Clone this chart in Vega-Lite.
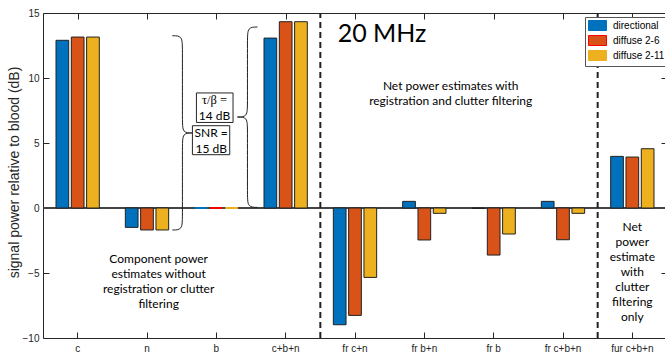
{
  "$schema": "https://vega.github.io/schema/vega-lite/v6.json",
  "autosize": {"type": "none"},
  "padding": {"left": 43, "top": 13, "right": 0, "bottom": 14},
  "width": 624,
  "height": 325,
  "background": "white",
  "config": {
    "view": {"stroke": "#262626", "strokeWidth": 1},
    "axis": {"grid": false, "labelFont": "Liberation Sans", "labelFontSize": 10, "labelColor": "#262626", "tickColor": "#262626", "titleFont": "Liberation Sans", "titleColor": "#262626", "titleFontWeight": "normal"},
    "legend": {"labelFont": "Liberation Sans", "labelFontSize": 10, "labelColor": "#000", "strokeColor": "#555", "strokeWidth": 1}
  },
  "datasets": {
    "bars": [
      {"cat": "c", "series": "directional", "value": 12.9},
      {"cat": "c", "series": "diffuse 2-6", "value": 13.15},
      {"cat": "c", "series": "diffuse 2-11", "value": 13.15},
      {"cat": "n", "series": "directional", "value": -1.49},
      {"cat": "n", "series": "diffuse 2-6", "value": -1.69},
      {"cat": "n", "series": "diffuse 2-11", "value": -1.69},
      {"cat": "b", "series": "directional", "value": 0},
      {"cat": "b", "series": "diffuse 2-6", "value": 0},
      {"cat": "b", "series": "diffuse 2-11", "value": 0},
      {"cat": "c+b+n", "series": "directional", "value": 13.07},
      {"cat": "c+b+n", "series": "diffuse 2-6", "value": 14.33},
      {"cat": "c+b+n", "series": "diffuse 2-11", "value": 14.33},
      {"cat": "fr c+n", "series": "directional", "value": -8.98},
      {"cat": "fr c+n", "series": "diffuse 2-6", "value": -8.26},
      {"cat": "fr c+n", "series": "diffuse 2-11", "value": -5.34},
      {"cat": "fr b+n", "series": "directional", "value": 0.51},
      {"cat": "fr b+n", "series": "diffuse 2-6", "value": -2.46},
      {"cat": "fr b+n", "series": "diffuse 2-11", "value": -0.41},
      {"cat": "fr b", "series": "directional", "value": -0.03},
      {"cat": "fr b", "series": "diffuse 2-6", "value": -3.62},
      {"cat": "fr b", "series": "diffuse 2-11", "value": -2.0},
      {"cat": "fr c+b+n", "series": "directional", "value": 0.51},
      {"cat": "fr c+b+n", "series": "diffuse 2-6", "value": -2.44},
      {"cat": "fr c+b+n", "series": "diffuse 2-11", "value": -0.41},
      {"cat": "fur c+b+n", "series": "directional", "value": 3.97},
      {"cat": "fur c+b+n", "series": "diffuse 2-6", "value": 3.92},
      {"cat": "fur c+b+n", "series": "diffuse 2-11", "value": 4.56}
    ],
    "braces": [
      {"brace": "L", "i": 0, "x": 2.366, "y": 13.25},
      {"brace": "L", "i": 1, "x": 2.511, "y": 13.25},
      {"brace": "L", "i": 2, "x": 2.511, "y": 12.3},
      {"brace": "L", "i": 3, "x": 2.511, "y": 6.7},
      {"brace": "L", "i": 4, "x": 2.511, "y": 5.77},
      {"brace": "L", "i": 5, "x": 2.655, "y": 5.77},
      {"brace": "L", "i": 6, "x": 2.655, "y": 5.77},
      {"brace": "L", "i": 7, "x": 2.655, "y": 5.77},
      {"brace": "L", "i": 8, "x": 2.511, "y": 5.77},
      {"brace": "L", "i": 9, "x": 2.511, "y": 4.8},
      {"brace": "L", "i": 10, "x": 2.511, "y": -0.7},
      {"brace": "L", "i": 11, "x": 2.511, "y": -1.69},
      {"brace": "L", "i": 12, "x": 2.366, "y": -1.69},
      {"brace": "R", "i": 0, "x": 3.593, "y": 13.92},
      {"brace": "R", "i": 1, "x": 3.449, "y": 13.92},
      {"brace": "R", "i": 2, "x": 3.449, "y": 12.95},
      {"brace": "R", "i": 3, "x": 3.449, "y": 7.95},
      {"brace": "R", "i": 4, "x": 3.449, "y": 7.0},
      {"brace": "R", "i": 5, "x": 3.304, "y": 7.0},
      {"brace": "R", "i": 6, "x": 3.304, "y": 7.0},
      {"brace": "R", "i": 7, "x": 3.304, "y": 7.0},
      {"brace": "R", "i": 8, "x": 3.449, "y": 7.0},
      {"brace": "R", "i": 9, "x": 3.449, "y": 6.05},
      {"brace": "R", "i": 10, "x": 3.449, "y": 1.0},
      {"brace": "R", "i": 11, "x": 3.449, "y": 0.05},
      {"brace": "R", "i": 12, "x": 3.593, "y": 0.05}
    ]
  },
  "resolve": {"scale": {"x": "independent", "y": "independent"}, "axis": {"x": "independent", "y": "independent"}},
  "layer": [
    {
      "data": {"name": "bars"},
      "layer": [
        {
          "mark": {"type": "rule", "color": "#444", "strokeWidth": 1},
          "encoding": {
            "y": {"datum": 0, "type": "quantitative", "scale": {"domain": [-10, 15], "nice": false, "zero": false}, "axis": {"title": "signal power relative to blood (dB)", "values": [-10, -5, 0, 5, 10, 15], "tickSize": -6, "labelPadding": 10, "domain": false, "titleFontSize": 14, "titlePadding": 1, "titleY": 159}}
          }
        },
        {
          "mark": {"type": "bar"},
          "encoding": {
            "x": {"field": "cat", "type": "nominal", "sort": ["c", "n", "b", "c+b+n", "fr c+n", "fr b+n", "fr b", "fr c+b+n", "fur c+b+n"], "scale": {"paddingInner": 0, "paddingOuter": 0}, "axis": {"title": null, "labelAngle": 0, "tickSize": -6, "labelPadding": 11, "domain": false}},
            "xOffset": {"field": "series", "type": "nominal", "sort": ["directional", "diffuse 2-6", "diffuse 2-11"], "scale": {"paddingInner": 0.17, "paddingOuter": 0.85}},
            "y": {"field": "value", "type": "quantitative", "scale": {"domain": [-10, 15], "nice": false, "zero": false}, "axis": {"title": "signal power relative to blood (dB)", "values": [-10, -5, 0, 5, 10, 15], "tickSize": -6, "labelPadding": 10, "domain": false, "titleFontSize": 14, "titlePadding": 1, "titleY": 159}},
            "fill": {"field": "series", "type": "nominal", "sort": ["directional", "diffuse 2-6", "diffuse 2-11"], "scale": {"domain": ["directional", "diffuse 2-6", "diffuse 2-11"], "range": ["#0072BD", "#D95319", "#EDB120"]}, "legend": {"title": null, "orient": "none", "legendX": 542, "legendY": 4, "fillColor": "white", "strokeColor": "#555", "padding": 3, "symbolType": "M-1.8,-1H1.8V1H-1.8Z", "symbolSize": 100, "symbolOffset": 4, "symbolStrokeColor": "#222", "symbolStrokeWidth": 1, "symbolOpacity": 1, "rowPadding": 0, "labelOffset": 10}},
            "stroke": {"condition": {"test": "datum.cat === 'b'", "field": "series", "type": "nominal", "scale": {"domain": ["directional", "diffuse 2-6", "diffuse 2-11"], "range": ["#0072BD", "#FF0000", "#EDB120"]}, "legend": null}, "value": "#222"},
            "strokeWidth": {"condition": {"test": "datum.cat === 'b'", "value": 2}, "value": 1}
          }
        }
      ]
    },
    {
      "layer": [
        {
          "data": {"values": [{"x": 4.5}, {"x": 8.5}]},
          "mark": {"type": "rule", "color": "#222", "strokeWidth": 2, "strokeDash": [6, 4]},
          "encoding": {
            "x": {"field": "x", "type": "quantitative", "scale": {"domain": [0.5, 9.5], "nice": false, "zero": false}, "axis": {"orient": "top", "values": [1, 2, 3, 4, 5, 6, 7, 8, 9], "labels": false, "tickSize": -6, "domain": false, "title": null}},
            "y": {"datum": -10, "type": "quantitative", "scale": {"domain": [-10, 15], "nice": false, "zero": false}, "axis": {"orient": "right", "values": [-10, -5, 0, 5, 10, 15], "labels": false, "tickSize": -6, "domain": false, "title": null}},
            "y2": {"datum": 15}
          }
        },
        {
          "data": {"name": "braces"},
          "mark": {"type": "line", "interpolate": "basis", "color": "#222", "strokeWidth": 1},
          "encoding": {
            "x": {"field": "x", "type": "quantitative", "scale": {"domain": [0.5, 9.5], "nice": false, "zero": false}, "axis": {"orient": "top", "values": [1, 2, 3, 4, 5, 6, 7, 8, 9], "labels": false, "tickSize": -6, "domain": false, "title": null}},
            "y": {"field": "y", "type": "quantitative", "scale": {"domain": [-10, 15], "nice": false, "zero": false}, "axis": {"orient": "right", "values": [-10, -5, 0, 5, 10, 15], "labels": false, "tickSize": -6, "domain": false, "title": null}},
            "detail": {"field": "brace", "type": "nominal"},
            "order": {"field": "i", "type": "quantitative"}
          }
        },
        {
          "data": {"values": [{"x": 2.713, "x2": 3.241, "y": 6.58, "y2": 8.85}, {"x": 2.655, "x2": 3.193, "y": 4.1, "y2": 6.33}]},
          "mark": {"type": "rect", "fill": "white", "stroke": "#262626", "strokeWidth": 1},
          "encoding": {
            "x": {"field": "x", "type": "quantitative", "scale": {"domain": [0.5, 9.5], "nice": false, "zero": false}, "axis": {"orient": "top", "values": [1, 2, 3, 4, 5, 6, 7, 8, 9], "labels": false, "tickSize": -6, "domain": false, "title": null}},
            "x2": {"field": "x2"},
            "y": {"field": "y", "type": "quantitative", "scale": {"domain": [-10, 15], "nice": false, "zero": false}, "axis": {"orient": "right", "values": [-10, -5, 0, 5, 10, 15], "labels": false, "tickSize": -6, "domain": false, "title": null}},
            "y2": {"field": "y2"}
          }
        },
        {
          "data": {"values": [
            {"x": 6.38, "y": 9.41, "label": ["Net power estimates with", "registration and clutter filtering"]},
            {"x": 2.168, "y": -3.92, "label": ["Component power", "estimates without", "registration or clutter", "filtering"]},
            {"x": 9.0, "y": -1.49, "label": ["Net", "power", "estimate", "with", "clutter", "filtering", "only"]},
            {"x": 2.973, "y": 7.05, "label": ["14 dB"]},
            {"x": 2.926, "y": 5.77, "label": ["SNR ="]},
            {"x": 2.926, "y": 4.56, "label": ["15 dB"]}
          ]},
          "mark": {"type": "text", "font": "Lato", "fontSize": 12, "lineHeight": 15, "align": "center", "baseline": "middle", "color": "#000"},
          "encoding": {
            "x": {"field": "x", "type": "quantitative", "scale": {"domain": [0.5, 9.5], "nice": false, "zero": false}, "axis": {"orient": "top", "values": [1, 2, 3, 4, 5, 6, 7, 8, 9], "labels": false, "tickSize": -6, "domain": false, "title": null}},
            "y": {"field": "y", "type": "quantitative", "scale": {"domain": [-10, 15], "nice": false, "zero": false}, "axis": {"orient": "right", "values": [-10, -5, 0, 5, 10, 15], "labels": false, "tickSize": -6, "domain": false, "title": null}},
            "text": {"field": "label"}
          }
        },
        {
          "data": {"values": [{"x": 2.973, "y": 8.28, "label": "τ/β ="}]},
          "mark": {"type": "text", "font": "Liberation Serif", "fontSize": 12.5, "align": "center", "baseline": "middle", "color": "#000"},
          "encoding": {
            "x": {"field": "x", "type": "quantitative", "scale": {"domain": [0.5, 9.5], "nice": false, "zero": false}, "axis": {"orient": "top", "values": [1, 2, 3, 4, 5, 6, 7, 8, 9], "labels": false, "tickSize": -6, "domain": false, "title": null}},
            "y": {"field": "y", "type": "quantitative", "scale": {"domain": [-10, 15], "nice": false, "zero": false}, "axis": {"orient": "right", "values": [-10, -5, 0, 5, 10, 15], "labels": false, "tickSize": -6, "domain": false, "title": null}},
            "text": {"field": "label"}
          }
        },
        {
          "data": {"values": [{"x": 4.75, "y": 13.41, "label": "20 MHz"}]},
          "mark": {"type": "text", "font": "Lato", "fontSize": 25, "align": "left", "baseline": "middle", "color": "#000"},
          "encoding": {
            "x": {"field": "x", "type": "quantitative", "scale": {"domain": [0.5, 9.5], "nice": false, "zero": false}, "axis": {"orient": "top", "values": [1, 2, 3, 4, 5, 6, 7, 8, 9], "labels": false, "tickSize": -6, "domain": false, "title": null}},
            "y": {"field": "y", "type": "quantitative", "scale": {"domain": [-10, 15], "nice": false, "zero": false}, "axis": {"orient": "right", "values": [-10, -5, 0, 5, 10, 15], "labels": false, "tickSize": -6, "domain": false, "title": null}},
            "text": {"field": "label"}
          }
        }
      ]
    }
  ]
}
